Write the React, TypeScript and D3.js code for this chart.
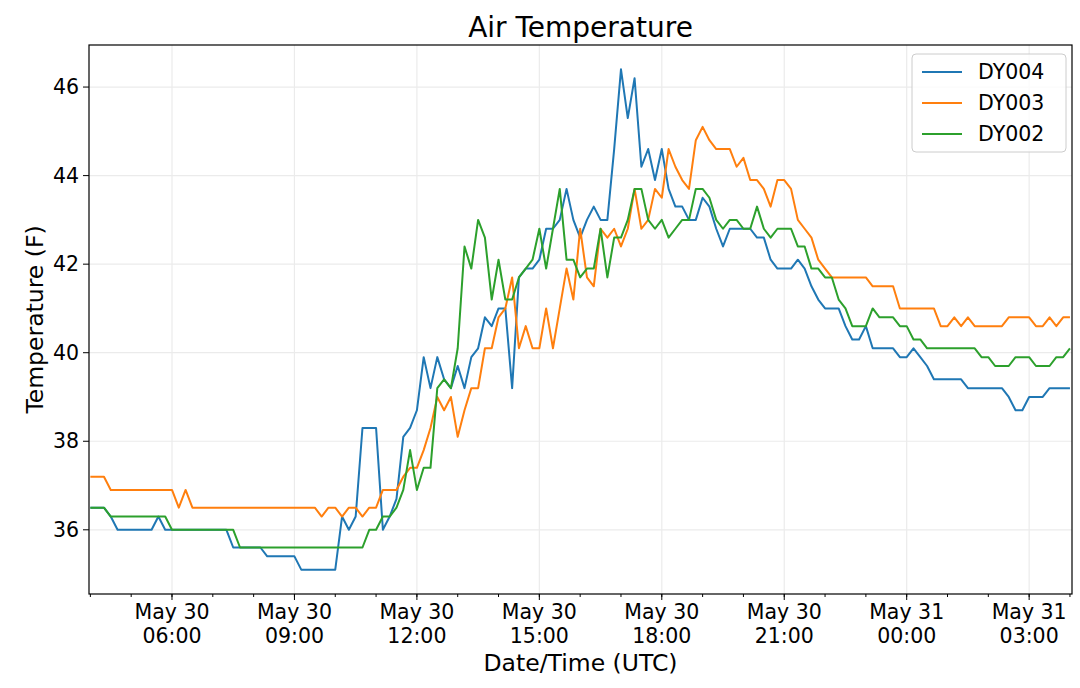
import * as d3 from 'd3'
import React, { useEffect, useRef } from 'react'

// 10-minute samples starting 2019-05-30 04:00 UTC
const startTime = Date.UTC(2019, 4, 30, 4, 0)
const stepMinutes = 10

const dy004 = [
    36.5, 36.5, 36.5, 36.3, 36.0, 36.0, 36.0, 36.0, 36.0, 36.0,
    36.3, 36.0, 36.0, 36.0, 36.0, 36.0, 36.0, 36.0, 36.0, 36.0,
    36.0, 35.6, 35.6, 35.6, 35.6, 35.6, 35.4, 35.4, 35.4, 35.4,
    35.4, 35.1, 35.1, 35.1, 35.1, 35.1, 35.1, 36.3, 36.0, 36.3,
    38.3, 38.3, 38.3, 36.0, 36.3, 36.7, 38.1, 38.3, 38.7, 39.9,
    39.2, 39.9, 39.4, 39.2, 39.7, 39.2, 39.9, 40.1, 40.8, 40.6,
    41.0, 41.0, 39.2, 41.7, 41.9, 41.9, 42.1, 42.8, 42.8, 43.0,
    43.7, 43.0, 42.6, 43.0, 43.3, 43.0, 43.0, 44.6, 46.4, 45.3,
    46.2, 44.2, 44.6, 43.9, 44.6, 43.7, 43.3, 43.3, 43.0, 43.0,
    43.5, 43.3, 42.8, 42.4, 42.8, 42.8, 42.8, 42.8, 42.6, 42.6,
    42.1, 41.9, 41.9, 41.9, 42.1, 41.9, 41.5, 41.2, 41.0, 41.0,
    41.0, 40.6, 40.3, 40.3, 40.6, 40.1, 40.1, 40.1, 40.1, 39.9,
    39.9, 40.1, 39.9, 39.7, 39.4, 39.4, 39.4, 39.4, 39.4, 39.2,
    39.2, 39.2, 39.2, 39.2, 39.2, 39.0, 38.7, 38.7, 39.0, 39.0,
    39.0, 39.2, 39.2, 39.2, 39.2,
]

const dy003 = [
    37.2, 37.2, 37.2, 36.9, 36.9, 36.9, 36.9, 36.9, 36.9, 36.9,
    36.9, 36.9, 36.9, 36.5, 36.9, 36.5, 36.5, 36.5, 36.5, 36.5,
    36.5, 36.5, 36.5, 36.5, 36.5, 36.5, 36.5, 36.5, 36.5, 36.5,
    36.5, 36.5, 36.5, 36.5, 36.3, 36.5, 36.5, 36.3, 36.5, 36.5,
    36.3, 36.5, 36.5, 36.9, 36.9, 36.9, 37.2, 37.4, 37.4, 37.8,
    38.3, 39.0, 38.7, 39.0, 38.1, 38.7, 39.2, 39.2, 40.1, 40.1,
    40.8, 41.0, 41.7, 40.1, 40.6, 40.1, 40.1, 41.0, 40.1, 41.0,
    41.9, 41.2, 42.8, 41.7, 41.5, 42.8, 42.6, 42.8, 42.4, 42.8,
    43.7, 42.8, 43.0, 43.7, 43.5, 44.6, 44.2, 43.9, 43.7, 44.8,
    45.1, 44.8, 44.6, 44.6, 44.6, 44.2, 44.4, 43.9, 43.9, 43.7,
    43.3, 43.9, 43.9, 43.7, 43.0, 42.8, 42.6, 42.1, 41.9, 41.7,
    41.7, 41.7, 41.7, 41.7, 41.7, 41.5, 41.5, 41.5, 41.5, 41.0,
    41.0, 41.0, 41.0, 41.0, 41.0, 40.6, 40.6, 40.8, 40.6, 40.8,
    40.6, 40.6, 40.6, 40.6, 40.6, 40.8, 40.8, 40.8, 40.8, 40.6,
    40.6, 40.8, 40.6, 40.8, 40.8,
]

const dy002 = [
    36.5, 36.5, 36.5, 36.3, 36.3, 36.3, 36.3, 36.3, 36.3, 36.3,
    36.3, 36.3, 36.0, 36.0, 36.0, 36.0, 36.0, 36.0, 36.0, 36.0,
    36.0, 36.0, 35.6, 35.6, 35.6, 35.6, 35.6, 35.6, 35.6, 35.6,
    35.6, 35.6, 35.6, 35.6, 35.6, 35.6, 35.6, 35.6, 35.6, 35.6,
    35.6, 36.0, 36.0, 36.3, 36.3, 36.5, 36.9, 37.8, 36.9, 37.4,
    37.4, 39.2, 39.4, 39.2, 40.1, 42.4, 41.9, 43.0, 42.6, 41.2,
    42.1, 41.2, 41.2, 41.7, 41.9, 42.1, 42.8, 41.9, 42.8, 43.7,
    42.1, 42.1, 41.7, 41.9, 41.9, 42.8, 41.7, 42.6, 42.6, 43.0,
    43.7, 43.7, 43.0, 42.8, 43.0, 42.6, 42.8, 43.0, 43.0, 43.7,
    43.7, 43.5, 43.0, 42.8, 43.0, 43.0, 42.8, 42.8, 43.3, 42.8,
    42.6, 42.8, 42.8, 42.8, 42.4, 42.4, 41.9, 41.9, 41.7, 41.7,
    41.2, 41.0, 40.6, 40.6, 40.6, 41.0, 40.8, 40.8, 40.8, 40.6,
    40.6, 40.3, 40.3, 40.1, 40.1, 40.1, 40.1, 40.1, 40.1, 40.1,
    40.1, 39.9, 39.9, 39.7, 39.7, 39.7, 39.9, 39.9, 39.9, 39.7,
    39.7, 39.7, 39.9, 39.9, 40.1,
]

const seriesNames = ['DY004', 'DY003', 'DY002']
const seriesValues = [dy004, dy003, dy002]
const seriesColors = ['#1f77b4', '#ff7f0e', '#2ca02c']
const yTicks = [36, 38, 40, 42, 44, 46]

const App = (): JSX.Element => {
    const ref = useRef<SVGSVGElement>(null)
    const width = 1080
    const height = 688
    const margin = { top: 45, right: 8, bottom: 94, left: 89 }
    const font = 'DejaVu Sans, sans-serif'
    const tickSize = 20.5

    useEffect(() => {
        document.body.style.margin = '0'
        const svg = d3.select(ref.current)
        svg.selectAll('*').remove()

        const xScale = d3
            .scaleUtc()
            .domain([startTime - 2 * 60000, startTime + 24 * 3600000 + 3 * 60000])
            .range([margin.left, width - margin.right])
        const yScale = d3
            .scaleLinear()
            .domain([34.55, 46.95])
            .range([height - margin.bottom, margin.top])

        const majorTicks = d3.utcHour.every(3)!.range(new Date(startTime), new Date(startTime + 24 * 3600000))
            .filter((d) => d.getTime() > startTime)
        const minorTicks = d3.utcHour.every(1)!.range(new Date(startTime), new Date(startTime + 24 * 3600000 + 1))

        const g = svg.append('g')
        // grid
        g.selectAll('.vgrid')
            .data(majorTicks)
            .enter()
            .append('line')
            .attr('x1', (d) => xScale(d))
            .attr('x2', (d) => xScale(d))
            .attr('y1', margin.top)
            .attr('y2', height - margin.bottom)
            .attr('stroke', '#ebebeb')
            .attr('stroke-width', 1.2)
        g.selectAll('.hgrid')
            .data(yTicks)
            .enter()
            .append('line')
            .attr('x1', margin.left)
            .attr('x2', width - margin.right)
            .attr('y1', (d) => yScale(d))
            .attr('y2', (d) => yScale(d))
            .attr('stroke', '#ebebeb')
            .attr('stroke-width', 1.2)

        const line = d3
            .line<number>()
            .x((d, i) => xScale(startTime + i * stepMinutes * 60000))
            .y((d) => yScale(d))

        seriesValues.forEach((values, k) => {
            g.append('path')
                .attr('d', line(values))
                .attr('fill', 'none')
                .attr('stroke', seriesColors[k])
                .attr('stroke-width', 2)
                .attr('stroke-linejoin', 'round')
        })

        // frame
        g.append('rect')
            .attr('x', margin.left)
            .attr('y', margin.top)
            .attr('width', width - margin.left - margin.right)
            .attr('height', height - margin.top - margin.bottom)
            .attr('fill', 'none')
            .attr('stroke', '#000')
            .attr('stroke-width', 1.2)

        const bottom = height - margin.bottom
        g.selectAll('.minor')
            .data(minorTicks)
            .enter()
            .append('line')
            .attr('x1', (d) => xScale(d))
            .attr('x2', (d) => xScale(d))
            .attr('y1', bottom)
            .attr('y2', bottom + 3)
            .attr('stroke', '#000')
        g.selectAll('.major')
            .data(majorTicks)
            .enter()
            .append('line')
            .attr('x1', (d) => xScale(d))
            .attr('x2', (d) => xScale(d))
            .attr('y1', bottom)
            .attr('y2', bottom + 6)
            .attr('stroke', '#000')
        const dayFmt = d3.utcFormat('%b %d')
        const hourFmt = d3.utcFormat('%H:%M')
        const lbl = g.selectAll('.xl')
            .data(majorTicks)
            .enter()
            .append('text')
            .attr('text-anchor', 'middle')
            .attr('font-family', font)
            .attr('font-size', tickSize)
            .attr('fill', '#000')
        lbl.append('tspan').attr('x', (d) => xScale(d)).attr('y', bottom + 25).text((d) => dayFmt(d))
        lbl.append('tspan').attr('x', (d) => xScale(d)).attr('y', bottom + 49).text((d) => hourFmt(d))

        g.selectAll('.ytick')
            .data(yTicks)
            .enter()
            .append('line')
            .attr('x1', margin.left - 6)
            .attr('x2', margin.left)
            .attr('y1', (d) => yScale(d))
            .attr('y2', (d) => yScale(d))
            .attr('stroke', '#000')
        g.selectAll('.yl')
            .data(yTicks)
            .enter()
            .append('text')
            .attr('x', margin.left - 10)
            .attr('y', (d) => yScale(d))
            .attr('dy', '0.35em')
            .attr('text-anchor', 'end')
            .attr('font-family', font)
            .attr('font-size', tickSize)
            .text((d) => d)

        g.append('text')
            .attr('x', (margin.left + width - margin.right) / 2)
            .attr('y', 37)
            .attr('text-anchor', 'middle')
            .attr('font-family', font)
            .attr('font-size', 28)
            .text('Air Temperature')
        g.append('text')
            .attr('x', (margin.left + width - margin.right) / 2)
            .attr('y', 671)
            .attr('text-anchor', 'middle')
            .attr('font-family', font)
            .attr('font-size', 23.5)
            .text('Date/Time (UTC)')
        g.append('text')
            .attr('transform', `translate(43,${(margin.top + bottom) / 2}) rotate(-90)`)
            .attr('text-anchor', 'middle')
            .attr('font-family', font)
            .attr('font-size', 23.5)
            .text('Temperature (F)')

        // legend
        const legend = g.append('g').attr('transform', 'translate(912,54)')
        legend.append('rect')
            .attr('width', 154)
            .attr('height', 98)
            .attr('rx', 4)
            .attr('fill', '#fff')
            .attr('fill-opacity', 0.8)
            .attr('stroke', '#ccc')
        seriesNames.forEach((name, k) => {
            const y = 18 + k * 31
            legend.append('line')
                .attr('x1', 10).attr('x2', 50)
                .attr('y1', y).attr('y2', y)
                .attr('stroke', seriesColors[k])
                .attr('stroke-width', 2)
            legend.append('text')
                .attr('x', 66).attr('y', y)
                .attr('dy', '0.35em')
                .attr('font-family', font)
                .attr('font-size', tickSize)
                .text(name)
        })
    }, [])

    return <svg ref={ref} width={width} height={height} style={{ display: 'block', background: '#fff' }} />
}

export default App
